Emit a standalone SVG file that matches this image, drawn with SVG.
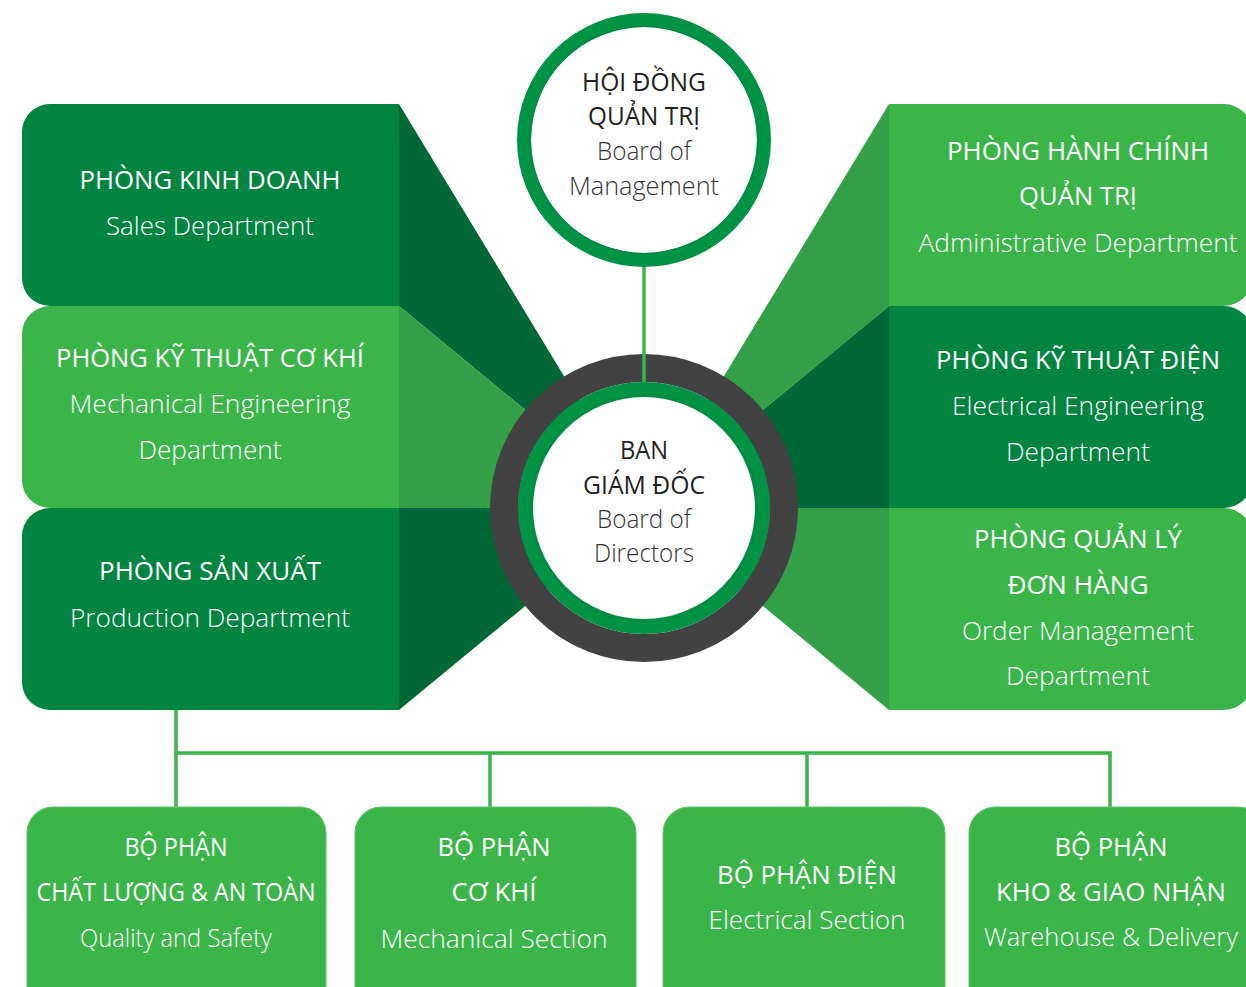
<svg xmlns="http://www.w3.org/2000/svg" width="1246" height="987" viewBox="0 0 1246 987">
<style>
.cap{font-family:"Open Sans","Liberation Sans",sans-serif;font-weight:400;text-anchor:middle;fill:#fff;font-size:25px}
.en{font-family:"Open Sans","Liberation Sans",sans-serif;font-weight:300;text-anchor:middle;fill:#fff;font-size:25px}
.dk{fill:#231f20}
.gy{fill:#333}
.boxD{fill:#00843f}
.boxL{fill:#3bb54a}
.fanD{fill:#006837}
.fanL{fill:#33a048}
.conn{stroke:#3bb54a;stroke-width:3.5;fill:none}
.sub{fill:#3bb54a;stroke:#5cc26a;stroke-width:1}
</style>
<rect width="1246" height="987" fill="#fff"/>
<g id="fans">
<polygon class="fanD" points="399,104 644,508 399,306"/>
<polygon class="fanL" points="399,306 644,508 399,508"/>
<polygon class="fanD" points="399,508 644,508 399,710"/>
<polygon class="fanL" points="889,104 644,508 889,306"/>
<polygon class="fanD" points="889,306 644,508 889,508"/>
<polygon class="fanL" points="889,508 644,508 889,710"/>
</g>
<g id="connectors">
<line class="conn" x1="644" y1="266" x2="644" y2="384"/>
<polyline class="conn" points="176,710 176,753 1110,753 1110,808"/>
<line class="conn" x1="176" y1="753" x2="176" y2="808"/>
<line class="conn" x1="490" y1="753" x2="490" y2="808"/>
<line class="conn" x1="807" y1="753" x2="807" y2="808"/>
</g>
<g id="hoi-dong-quan-tri">
<circle cx="644" cy="140" r="120" fill="#fff" stroke="#009245" stroke-width="14"/>
<circle cx="644" cy="140" r="114" fill="none" stroke="#008a43" stroke-width="2"/>
<text class="cap dk" x="644" y="91" textLength="124" lengthAdjust="spacingAndGlyphs">HỘI ĐỒNG</text>
<text class="cap dk" x="644" y="125" textLength="112" lengthAdjust="spacingAndGlyphs">QUẢN TRỊ</text>
<text class="en gy" x="644" y="160" textLength="94" lengthAdjust="spacingAndGlyphs">Board of</text>
<text class="en gy" x="644" y="195" textLength="150" lengthAdjust="spacingAndGlyphs">Management</text>
</g>
<g id="ban-giam-doc">
<circle cx="644" cy="508" r="140" fill="none" stroke="#424242" stroke-width="28"/>
<line class="conn" x1="644" y1="354" x2="644" y2="384"/>
<circle cx="644" cy="508" r="118.5" fill="#fff" stroke="#009245" stroke-width="15"/>
<circle cx="644" cy="508" r="113" fill="none" stroke="#008a43" stroke-width="2"/>
<text class="cap dk" x="644" y="459" textLength="48" lengthAdjust="spacingAndGlyphs">BAN</text>
<text class="cap dk" x="644" y="494" textLength="122" lengthAdjust="spacingAndGlyphs">GIÁM ĐỐC</text>
<text class="en gy" x="644" y="528" textLength="94" lengthAdjust="spacingAndGlyphs">Board of</text>
<text class="en gy" x="644" y="562" textLength="100" lengthAdjust="spacingAndGlyphs">Directors</text>
</g>
<g id="phong-kinh-doanh">
<path class="boxD" d="M399,104 H50 A28,28 0 0 0 22,132 V278 A28,28 0 0 0 50,306 H399 Z"/>
<text class="cap" x="210" y="189" textLength="261" lengthAdjust="spacingAndGlyphs">PHÒNG KINH DOANH</text>
<text class="en" x="210" y="235" textLength="208" lengthAdjust="spacingAndGlyphs">Sales Department</text>
</g>
<g id="phong-ky-thuat-co-khi">
<path class="boxL" d="M399,306 H50 A28,28 0 0 0 22,334 V480 A28,28 0 0 0 50,508 H399 Z"/>
<text class="cap" x="210" y="367" textLength="308" lengthAdjust="spacingAndGlyphs">PHÒNG KỸ THUẬT CƠ KHÍ</text>
<text class="en" x="210" y="413" textLength="281" lengthAdjust="spacingAndGlyphs">Mechanical Engineering</text>
<text class="en" x="210" y="459" textLength="143" lengthAdjust="spacingAndGlyphs">Department</text>
</g>
<g id="phong-san-xuat">
<path class="boxD" d="M399,508 H50 A28,28 0 0 0 22,536 V682 A28,28 0 0 0 50,710 H399 Z"/>
<text class="cap" x="210" y="580" textLength="222" lengthAdjust="spacingAndGlyphs">PHÒNG SẢN XUẤT</text>
<text class="en" x="210" y="627" textLength="280" lengthAdjust="spacingAndGlyphs">Production Department</text>
</g>
<g id="phong-hanh-chinh">
<path class="boxL" d="M889,104 H1224 A28,28 0 0 1 1252,132 V278 A28,28 0 0 1 1224,306 H889 Z"/>
<text class="cap" x="1078" y="160" textLength="262" lengthAdjust="spacingAndGlyphs">PHÒNG HÀNH CHÍNH</text>
<text class="cap" x="1078" y="205" textLength="118" lengthAdjust="spacingAndGlyphs">QUẢN TRỊ</text>
<text class="en" x="1078" y="252" textLength="319" lengthAdjust="spacingAndGlyphs">Administrative Department</text>
</g>
<g id="phong-ky-thuat-dien">
<path class="boxD" d="M889,306 H1224 A28,28 0 0 1 1252,334 V480 A28,28 0 0 1 1224,508 H889 Z"/>
<text class="cap" x="1078" y="369" textLength="284" lengthAdjust="spacingAndGlyphs">PHÒNG KỸ THUẬT ĐIỆN</text>
<text class="en" x="1078" y="415" textLength="252" lengthAdjust="spacingAndGlyphs">Electrical Engineering</text>
<text class="en" x="1078" y="461" textLength="144" lengthAdjust="spacingAndGlyphs">Department</text>
</g>
<g id="phong-quan-ly-don-hang">
<path class="boxL" d="M889,508 H1224 A28,28 0 0 1 1252,536 V682 A28,28 0 0 1 1224,710 H889 Z"/>
<text class="cap" x="1078" y="548" textLength="208" lengthAdjust="spacingAndGlyphs">PHÒNG QUẢN LÝ</text>
<text class="cap" x="1078" y="594" textLength="141" lengthAdjust="spacingAndGlyphs">ĐƠN HÀNG</text>
<text class="en" x="1078" y="640" textLength="232" lengthAdjust="spacingAndGlyphs">Order Management</text>
<text class="en" x="1078" y="685" textLength="144" lengthAdjust="spacingAndGlyphs">Department</text>
</g>
<g id="bo-phan-chat-luong">
<rect class="sub" x="27" y="807" width="299" height="210" rx="26"/>
<text class="cap" x="176" y="856" textLength="103" lengthAdjust="spacingAndGlyphs">BỘ PHẬN</text>
<text class="cap" x="176" y="901" textLength="279" lengthAdjust="spacingAndGlyphs">CHẤT LƯỢNG &amp; AN TOÀN</text>
<text class="en" x="176" y="947" textLength="192" lengthAdjust="spacingAndGlyphs">Quality and Safety</text>
</g>
<g id="bo-phan-co-khi">
<rect class="sub" x="355" y="807" width="281" height="210" rx="26"/>
<text class="cap" x="494" y="856" textLength="113" lengthAdjust="spacingAndGlyphs">BỘ PHẬN</text>
<text class="cap" x="494" y="901" textLength="85" lengthAdjust="spacingAndGlyphs">CƠ KHÍ</text>
<text class="en" x="494" y="948" textLength="227" lengthAdjust="spacingAndGlyphs">Mechanical Section</text>
</g>
<g id="bo-phan-dien">
<rect class="sub" x="663" y="807" width="282" height="210" rx="26"/>
<text class="cap" x="807" y="884" textLength="180" lengthAdjust="spacingAndGlyphs">BỘ PHẬN ĐIỆN</text>
<text class="en" x="807" y="929" textLength="197" lengthAdjust="spacingAndGlyphs">Electrical Section</text>
</g>
<g id="bo-phan-kho">
<rect class="sub" x="969" y="807" width="295" height="210" rx="26"/>
<text class="cap" x="1111" y="856" textLength="113" lengthAdjust="spacingAndGlyphs">BỘ PHẬN</text>
<text class="cap" x="1111" y="901" textLength="230" lengthAdjust="spacingAndGlyphs">KHO &amp; GIAO NHẬN</text>
<text class="en" x="1111" y="946" textLength="254" lengthAdjust="spacingAndGlyphs">Warehouse &amp; Delivery</text>
</g>
</svg>
